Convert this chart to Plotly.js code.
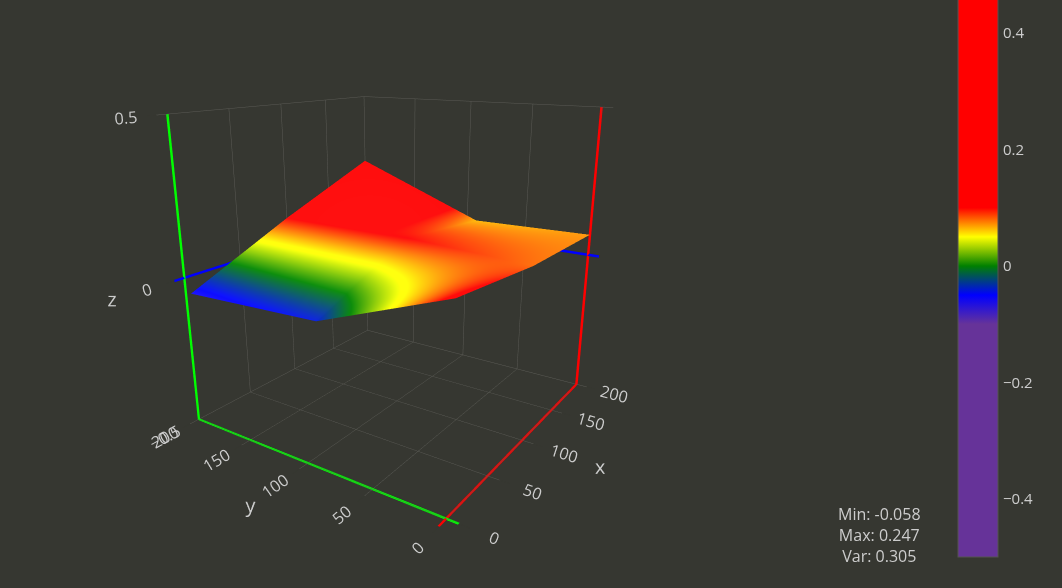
<!DOCTYPE html>
<html>
<head>
<meta charset="utf-8">
<script src="https://cdn.plot.ly/plotly-3.0.1.min.js"></script>
<style>html,body{margin:0;padding:0;background:#363731;overflow:hidden}</style>
</head>
<body>
<div id="chart" style="width:1062px;height:588px"></div>
<script>
const xValues = [4, 100, 200];
const yValues = [0, 92, 200];
const zRows = [
  [0.115, 0.08, 0.072],
  [-0.04, 0.10, 0.065],
  [-0.058, 0.10, 0.247]
];
const colorStops = [
  [0, '#663399'], [0.4, '#663399'], [0.45, '#0000ff'], [0.5, '#008000'],
  [0.55, '#ffff00'], [0.6, '#ff0000'], [1, '#ff0000']
];
const statsText = 'Min: -0.058<br>Max: 0.247<br>Var: 0.305';
const textColor = '#cccccc', gridColor = '#5a5a55', bg = '#363731';
function axis(title, range, dtick, zero) {
  return {
    title: {text: title, font: {color: textColor, size: 20}},
    range: range, dtick: dtick, tickfont: {color: textColor, size: 14},
    showbackground: false, gridcolor: gridColor, gridwidth: 1,
    zeroline: true, zerolinecolor: zero, zerolinewidth: 5,
    showline: false, showspikes: false, ticks: 'outside', ticklen: 8, tickcolor: bg
  };
}
Plotly.newPlot('chart', [{
  type: 'surface', x: xValues, y: yValues, z: zRows,
  cmin: -0.5, cmax: 0.5, colorscale: colorStops, showscale: true,
  colorbar: {
    x: 0.9022, xanchor: 'left', xpad: 0, ypad: 0, thickness: 40, thicknessmode: 'pixels',
    lenmode: 'pixels', len: 582, y: 0.0527, yanchor: 'bottom',
    outlinecolor: '#555550', outlinewidth: 1, tickfont: {color: textColor, size: 15},
    ticks: 'outside', ticklen: 2, tickcolor: bg, dtick: 0.2
  }
}], {
  width: 1062, height: 588, autosize: false,
  paper_bgcolor: bg, plot_bgcolor: bg,
  margin: {l: 0, r: 0, t: 0, b: 0},
  font: {family: '"Open Sans", sans-serif', color: textColor},
  scene: {
    domain: {x: [0, 0.75], y: [0, 1]},
    aspectmode: 'cube',
    camera: {eye: {x: -1.85, y: -1.24, z: 0.68}, center: {x: 0, y: 0, z: -0.09}, up: {x: 0, y: 0, z: 1}},
    xaxis: axis('x', [-8, 200], 50, '#00ff00'),
    yaxis: axis('y', [-8, 200], 50, '#ff0000'),
    zaxis: axis('z', [-0.5, 0.5], 0.5, '#0000ff')
  },
  annotations: [{
    text: statsText, xref: 'paper', yref: 'paper', x: 0.8277, y: 0.032,
    xanchor: 'center', yanchor: 'bottom', showarrow: false, align: 'center',
    font: {color: textColor, size: 16}
  }]
}, {displayModeBar: false});
</script>
</body>
</html>
